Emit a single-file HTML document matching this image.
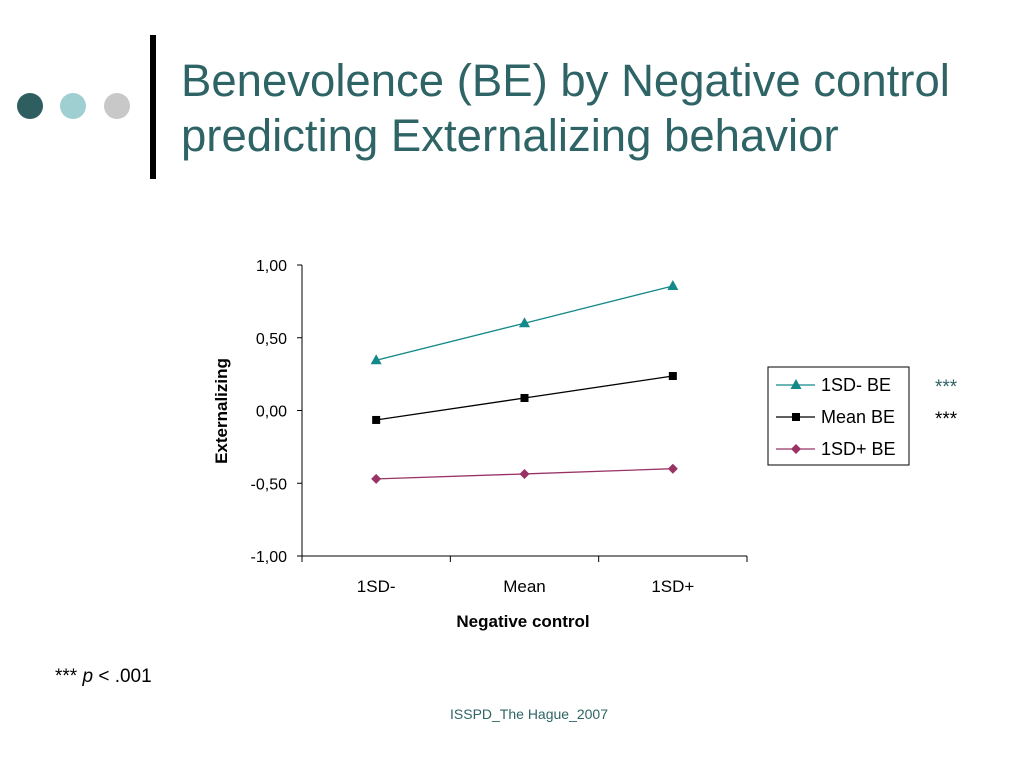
<!DOCTYPE html>
<html><head><meta charset="utf-8"><style>
body{margin:0;width:1024px;height:768px;background:#fff;position:relative;overflow:hidden;font-family:"Liberation Sans",sans-serif}
.t{position:absolute}
</style></head><body>
<div class="t" style="left:17px;top:93px;width:26px;height:26px;border-radius:50%;background:#2f5e60"></div>
<div class="t" style="left:60px;top:93px;width:26px;height:26px;border-radius:50%;background:#9fcfd0"></div>
<div class="t" style="left:104px;top:93px;width:26px;height:26px;border-radius:50%;background:#c8c8c8"></div>
<div class="t" style="left:150px;top:35px;width:6px;height:144px;background:#000"></div>
<div class="t" style="left:181px;top:53px;font-size:45.5px;line-height:55px;color:#2f6466">Benevolence (BE) by Negative control<br>predicting Externalizing behavior</div>
<div class="t" style="left:55px;top:666px;font-size:19px">*** <i>p</i> &lt; .001</div>
<div class="t" style="left:450px;top:706px;font-size:14px;color:#2f6466">ISSPD_The Hague_2007</div>
<svg id="c" class="t" style="left:0;top:0" width="1024" height="768"></svg>
<script>
const categories=["1SD-","Mean","1SD+"];
const yTicks=[1,0.5,0,-0.5,-1];
const yTickLabels=["1,00","0,50","0,00","-0,50","-1,00"];
const lowBE=[0.345,0.60,0.856];
const meanBE=[-0.065,0.086,0.237];
const highBE=[-0.47,-0.436,-0.40];
const seriesNames=["1SD- BE","Mean BE","1SD+ BE"];
const NS="http://www.w3.org/2000/svg",svg=document.getElementById('c');
function el(t,a,txt){const e=document.createElementNS(NS,t);for(const k in a)e.setAttribute(k,a[k]);if(txt!=null)e.textContent=txt;svg.appendChild(e);return e;}
const x0=302,x1=747,yTop=265,yBot=556;
const ys=v=>yTop+(1-v)/2*(yBot-yTop);
const step=(x1-x0)/categories.length;
const xs=i=>x0+step*(i+0.5);
let a=el('line',{x1:x0,y1:yTop,x2:x0,y2:yBot,stroke:'#000'});

a=el('line',{x1:x0,y1:yBot,x2:x1,y2:yBot,stroke:'#000'});

yTicks.forEach((v,i)=>{el('line',{x1:x0-5,y1:ys(v),x2:x0,y2:ys(v),stroke:'#000'});
 const t=el('text',{x:x0-15,y:ys(v)+6,'text-anchor':'end','font-size':16},yTickLabels[i]);
 });
for(let i=0;i<=categories.length;i++)el('line',{x1:x0+step*i,y1:yBot,x2:x0+step*i,y2:yBot+6,stroke:'#000'});
categories.forEach((c,i)=>{const t=el('text',{x:xs(i),y:592,'text-anchor':'middle','font-size':17},c);
 });
let t=el('text',{x:523,y:627,'text-anchor':'middle','font-size':17,'font-weight':'bold'},'Negative control');

t=el('text',{x:0,y:0,'text-anchor':'middle','font-size':17,'font-weight':'bold',transform:'translate(227,411) rotate(-90)'},'Externalizing');

function marker(kind,x,y,col){let m;
 if(kind==0)m=el('polygon',{points:`${x},${y-6} ${x-5.5},${y+4} ${x+5.5},${y+4}`,fill:col});
 else if(kind==1)m=el('rect',{x:x-4,y:y-4,width:8,height:8,fill:col});
 else m=el('polygon',{points:`${x},${y-5} ${x+5},${y} ${x},${y+5} ${x-5},${y}`,fill:col});
 return m;}
const cols=['#14898a','#000','#993366'];
[lowBE,meanBE,highBE].forEach((s,k)=>{
 const p=el('polyline',{points:s.map((v,i)=>xs(i)+','+ys(v)).join(' '),fill:'none',stroke:cols[k],'stroke-width':1.3});
 
 s.forEach((v,i)=>{const m=marker(k,xs(i),ys(v),cols[k]);});
});
const lg=el('rect',{x:768,y:367,width:141,height:98,fill:'#fff',stroke:'#000'});

seriesNames.forEach((n,k)=>{const y=385+k*32;
 el('line',{x1:776,y1:y,x2:815,y2:y,stroke:cols[k],'stroke-width':1.3});marker(k,796,y,cols[k]);
 const tt=el('text',{x:821,y:y+6,'font-size':18},n);});
t=el('text',{x:935,y:393,'font-size':19,fill:'#2f6466'},'***');
t=el('text',{x:935,y:425,'font-size':19},'***');
</script>
</body></html>
